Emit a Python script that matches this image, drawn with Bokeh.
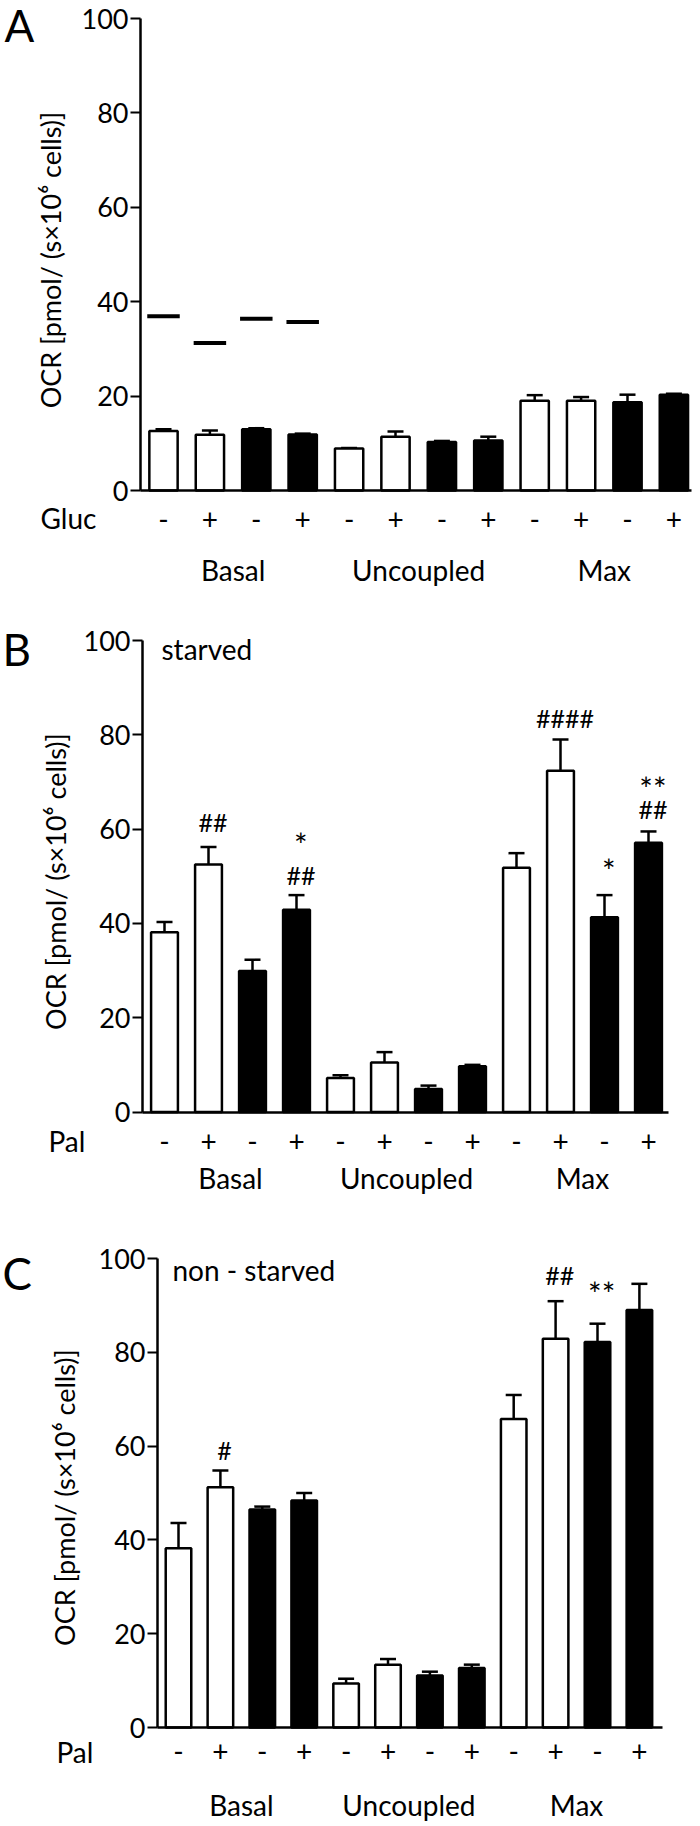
import numpy as np
from bokeh.plotting import figure
from bokeh.models import (Range1d, FixedTicker, LinearAxis, ColumnDataSource,
                          Whisker, TeeHead)
from bokeh.layouts import column
from bokeh.core.properties import value
from bokeh.embed import file_html
from bokeh.resources import INLINE

# ---------------- data ----------------
positions = list(range(1, 13))
sign_labels = ["-", "+"] * 6
group_names = ["Basal", "Uncoupled", "Max"]
group_centers = [2.5, 6.5, 10.5]
bar_fill = ["white", "white", "black", "black"] * 3

a_vals = [12.6, 11.8, 13.0, 11.85, 8.9, 11.4, 10.3, 10.6, 19.0, 19.0, 18.7, 20.3]
a_err = [0.4, 0.9, 0.2, 0.2, 0.1, 1.1, 0.2, 0.8, 1.2, 0.8, 1.6, 0.2]
a_marks = [36.9, 31.25, 36.4, 35.7]          # short black marks above the Basal bars

b_vals = [38.1, 52.5, 29.9, 42.9, 7.2, 10.5, 4.9, 9.7, 51.8, 72.4, 41.3, 57.1]
b_err = [2.2, 3.7, 2.4, 3.1, 0.6, 2.2, 0.7, 0.3, 3.1, 6.6, 4.7, 2.4]
b_sig_text = ["##", "*", "##", "####", "*", "**", "##"]
b_sig_bar = [2, 4, 4, 10, 11, 12, 12]

c_vals = [38.2, 51.2, 46.5, 48.4, 9.4, 13.4, 11.1, 12.7, 65.8, 82.9, 82.2, 89.0]
c_err = [5.4, 3.6, 0.6, 1.6, 1.0, 1.2, 0.8, 0.7, 5.1, 8.0, 3.9, 5.6]
c_sig_text = ["#", "##", "**"]
c_sig_bar = [2, 10, 11]

y_ticks = [0, 20, 40, 60, 80, 100]
y_title = "OCR [pmol/ (s\u00d710\u2076 cells)]"

# ---------------- layout (visual placement only) ----------------
FONT = "Lato"
W = 700
b_sig_y = [61.6, 56.8, 50.3, 83.6, 51.2, 68.7, 64.3]
c_sig_y = [59.2, 96.4, 92.6]

# page-pixel geometry of each panel
GEO = {
    "A": dict(top=0, h=600, ax=140, ax_end=691, y0=490, y100=18, c1=163, pitch=46.4,
              sign_so=18, group_so=62, title_x=50, letter=(4, 24), factor=(40, 517)),
    "B": dict(top=600, h=613, ax=142, ax_end=668, y0=1111.5, y100=640, c1=164, pitch=44.0,
              sign_so=19, group_so=49, title_x=55, letter=(2, 648), factor=(48, 1140)),
    "C": dict(top=1213, h=609, ax=157, ax_end=662, y0=1727, y100=1258, c1=178, pitch=41.9,
              sign_so=13, group_so=60, title_x=64, letter=(2, 1272), factor=(56, 1751)),
}


def make_panel(key, vals, errs, factor):
    g = GEO[key]
    ppu = (g["y0"] - g["y100"]) / 100.0

    def xd(rx):
        return 1 + (rx - g["c1"]) / g["pitch"]

    def yd(ry):
        return (g["y0"] - ry) / ppu

    p = figure(width=W, height=g["h"],
               x_range=Range1d(xd(0), xd(W)),
               y_range=Range1d(yd(g["top"] + g["h"]), yd(g["top"])),
               output_backend="svg", toolbar_location=None,
               min_border=0, min_border_left=0, min_border_right=0,
               min_border_top=0, min_border_bottom=0)
    p.outline_line_color = None
    p.grid.visible = False
    p.background_fill_color = "white"
    p.border_fill_color = "white"

    src = ColumnDataSource(dict(x=positions, top=vals, fill=bar_fill,
                                upper=[v + e for v, e in zip(vals, errs)],
                                lower=[v - e for v, e in zip(vals, errs)]))
    p.vbar(x="x", top="top", bottom=0, width=0.61, source=src, fill_color="fill",
           line_color="black", line_width=2.5)
    p.add_layout(Whisker(source=src, base="x", upper="upper", lower="lower",
                         dimension="height", line_color="black", line_width=2.5,
                         upper_head=TeeHead(size=16, line_color="black", line_width=2.5),
                         lower_head=TeeHead(size=16, line_color="black", line_width=2.5)))

    # y axis
    ya = p.yaxis[0]
    ya.fixed_location = xd(g["ax"])
    ya.bounds = (0, 100)
    ya.ticker = FixedTicker(ticks=y_ticks)
    ya.axis_line_width = 2.5
    ya.axis_line_color = "black"
    ya.major_tick_line_width = 2
    ya.major_tick_out = 10
    ya.major_tick_in = 0
    ya.minor_tick_line_color = None
    ya.major_label_standoff = 2
    ya.major_label_text_font = FONT
    ya.major_label_text_font_size = "27px"
    ya.major_label_text_color = "black"

    # y title (rotated, reading upward from about 17 on the axis)
    p.text(x=[xd(g["title_x"])], y=[17.4], text=[y_title], angle=np.pi / 2,
           text_font=value(FONT), text_font_size="27px", text_color="black",
           text_align="left", text_baseline="middle")

    # x axis: +/- signs
    xa = p.xaxis[0]
    xa.fixed_location = 0
    xa.bounds = (xd(g["ax"]), xd(g["ax_end"]))
    xa.ticker = FixedTicker(ticks=positions)
    xa.major_label_overrides = {x: s for x, s in zip(positions, sign_labels)}
    xa.axis_line_width = 2.5
    xa.axis_line_color = "black"
    xa.major_tick_line_color = None
    xa.minor_tick_line_color = None
    xa.major_tick_out = 0
    xa.major_tick_in = 0
    xa.major_label_standoff = g["sign_so"]
    xa.major_label_text_font = FONT
    xa.major_label_text_font_size = "28px"
    xa.major_label_text_color = "black"

    # group axis
    ga = LinearAxis(ticker=FixedTicker(ticks=group_centers),
                    major_label_overrides={c: n for c, n in zip(group_centers, group_names)})
    ga.fixed_location = 0
    ga.axis_line_color = None
    ga.major_tick_line_color = None
    ga.minor_tick_line_color = None
    ga.major_tick_out = 0
    ga.major_tick_in = 0
    ga.major_label_standoff = g["group_so"]
    ga.major_label_text_font = FONT
    ga.major_label_text_font_size = "28px"
    ga.major_label_text_color = "black"
    p.add_layout(ga, "below")

    # panel letter and factor name
    lx, ly = g["letter"]
    p.text(x=[xd(lx)], y=[yd(ly)], text=[key], text_font=value(FONT),
           text_font_size="44px", text_color="black", text_align="left",
           text_baseline="middle")
    fx, fy = g["factor"]
    p.text(x=[xd(fx)], y=[yd(fy)], text=[factor], text_font=value(FONT),
           text_font_size="28px", text_color="black", text_align="left",
           text_baseline="middle")
    return p, xd, yd


def add_sig(p, texts, bars, ys):
    stars = [i for i, t in enumerate(texts) if "*" in t]
    hashes = [i for i, t in enumerate(texts) if "*" not in t]
    for idx, size in ((hashes, "25px"), (stars, "32px")):
        src = ColumnDataSource(dict(x=[bars[i] + 0.1 for i in idx], y=[ys[i] for i in idx],
                                    t=[texts[i] for i in idx]))
        p.text(x="x", y="y", text="t", source=src, text_font=value(FONT),
               text_font_size=size, text_color="black", text_align="center",
               text_baseline="middle")


# Panel A
pa, xa_, ya_ = make_panel("A", a_vals, a_err, "Gluc")
mx = positions[:4]
pa.segment(x0=[x - 0.35 for x in mx], x1=[x + 0.35 for x in mx], y0=a_marks, y1=a_marks,
           line_color="black", line_width=4)

# Panel B
pb, xb_, yb_ = make_panel("B", b_vals, b_err, "Pal")
add_sig(pb, b_sig_text, b_sig_bar, b_sig_y)
pb.text(x=[xb_(161)], y=[98.1], text=["starved"], text_font=value(FONT),
        text_font_size="28px", text_color="black", text_align="left", text_baseline="middle")

# Panel C
pc, xc_, yc_ = make_panel("C", c_vals, c_err, "Pal")
add_sig(pc, c_sig_text, c_sig_bar, c_sig_y)
pc.text(x=[xc_(172)], y=[97.6], text=["non - starved"], text_font=value(FONT),
        text_font_size="28px", text_color="black", text_align="left", text_baseline="middle")

layout = column(pa, pb, pc, spacing=0)
open("out.html", "w").write(file_html(layout, INLINE))
